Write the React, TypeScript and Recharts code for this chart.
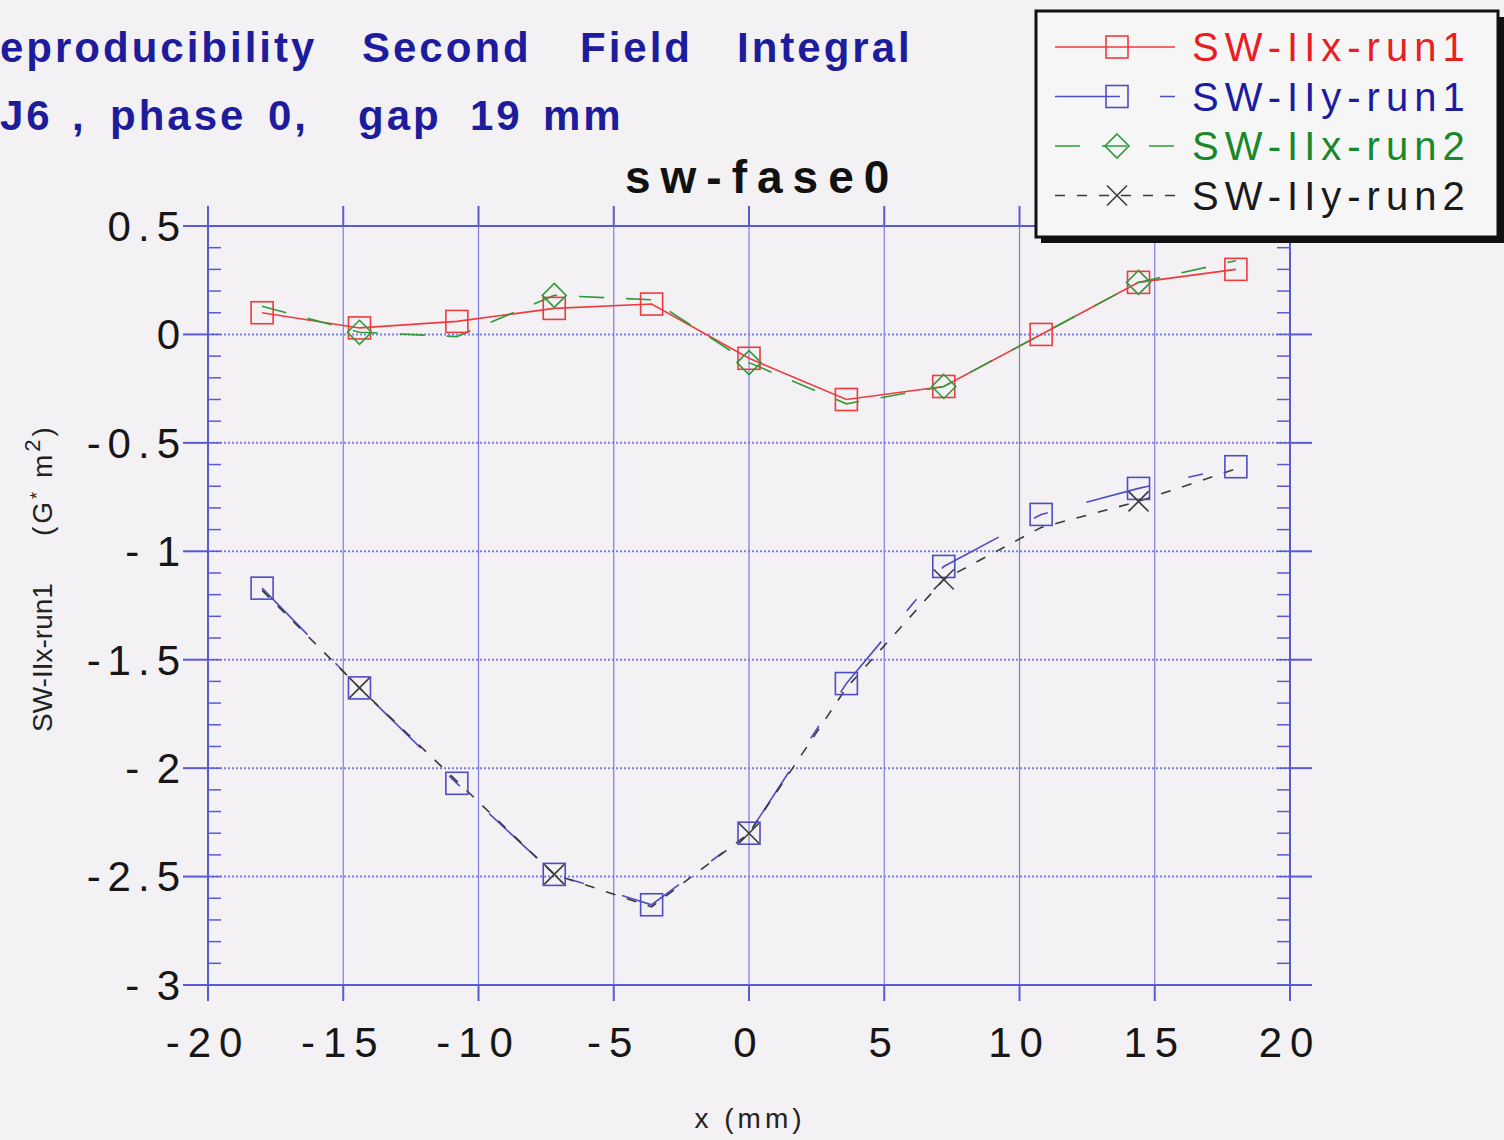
import { LineChart, Line, XAxis, YAxis, CartesianGrid } from "recharts"

// x positions of the measurement points (mm)
const xPositions = [-18, -14.4, -10.8, -7.2, -3.6, 0, 3.6, 7.2, 10.8, 14.4, 18]

// second field integrals (G* m^2)
const iixRun1 = [0.1, 0.03, 0.06, 0.12, 0.14, -0.11, -0.3, -0.24, 0.0, 0.24, 0.3]
const iiyRun1 = [-1.17, -1.63, -2.07, -2.49, -2.63, -2.3, -1.61, -1.07, -0.83, -0.71, -0.61]
const iixRun2 = [0.13, 0.01, -0.01, 0.18, 0.16, -0.13, -0.32, -0.24, 0.0, 0.24, 0.34]
const iiyRun2 = [-1.18, -1.63, -2.06, -2.49, -2.64, -2.3, -1.63, -1.13, -0.89, -0.77, -0.62]

const xTicks = [-20, -15, -10, -5, 0, 5, 10, 15, 20]
const yTicks = [-3, -2.5, -2, -1.5, -1, -0.5, 0, 0.5]
const yMinorTicks = [
  -3, -2.9, -2.8, -2.7, -2.6, -2.5, -2.4, -2.3, -2.2, -2.1, -2, -1.9, -1.8, -1.7, -1.6, -1.5, -1.4, -1.3,
  -1.2, -1.1, -1, -0.9, -0.8, -0.7, -0.6, -0.5, -0.4, -0.3, -0.2, -0.1, 0, 0.1, 0.2, 0.3, 0.4, 0.5,
]

const rows = xPositions.map((x, i) => ({
  x,
  iixRun1: iixRun1[i],
  iiyRun1: iiyRun1[i],
  iixRun2: iixRun2[i],
  iiyRun2: iiyRun2[i],
}))

const FONT = "'Liberation Sans', Arial, Helvetica, sans-serif"
const GRID = "#7c7ce4"
const AXIS = "#5a5ad4"

type Marker = "square" | "diamond" | "cross"

const series = [
  { key: "iixRun1", name: "SW-IIx-run1", color: "#ee3b3e", text: "#e81e24", dash: undefined, marker: "square" as Marker, every: 1 },
  { key: "iiyRun1", name: "SW-IIy-run1", color: "#4d4dc6", text: "#1c1ca0", dash: "65 40 15 40", marker: "square" as Marker, every: 1 },
  { key: "iixRun2", name: "SW-IIx-run2", color: "#2f9a3c", text: "#18882a", dash: "25 22", marker: "diamond" as Marker, every: 2 },
  { key: "iiyRun2", name: "SW-IIy-run2", color: "#3a3a3a", text: "#1a1a1a", dash: "10 12", marker: "cross" as Marker, every: 2 },
]

function markerShape(kind: Marker, cx: number, cy: number, color: string) {
  if (kind === "square") {
    return <rect x={cx - 11} y={cy - 11} width={22} height={22} fill="none" stroke={color} strokeWidth={1.6} />
  }
  if (kind === "diamond") {
    return (
      <path
        d={`M${cx} ${cy - 12} L${cx + 12} ${cy} L${cx} ${cy + 12} L${cx - 12} ${cy} Z`}
        fill="none"
        stroke={color}
        strokeWidth={1.6}
      />
    )
  }
  return (
    <path
      d={`M${cx - 10} ${cy - 10} L${cx + 10} ${cy + 10} M${cx + 10} ${cy - 10} L${cx - 10} ${cy + 10}`}
      stroke={color}
      strokeWidth={1.6}
    />
  )
}

// run2 markers are only drawn on every other point, like the original plot
const makeDot = (kind: Marker, color: string, every: number) => (props: any) => {
  const { cx, cy, index } = props
  if (cx == null || cy == null || index % every !== every - 1) return <g key={`d-${index}`} />
  return <g key={`d-${index}`}>{markerShape(kind, cx, cy, color)}</g>
}

const fmtY = (v: number) => (Number.isInteger(v) && v < 0 ? `-\u200A${Math.abs(v)}` : String(v))
const noLabel = () => ""

function Overlay() {
  const blue = "#1c1c9c"
  return (
    <svg width={1504} height={1140} style={{ position: "absolute", left: 0, top: 0, pointerEvents: "none" }}>
      <g fontFamily={FONT} fontWeight="bold" fontSize={42} fill={blue} letterSpacing={3}>
        <text x={0} y={62}>eproducibility</text>
        <text x={362} y={62}>Second</text>
        <text x={580} y={62}>Field</text>
        <text x={737} y={62}>Integral</text>
        <text x={0} y={130}>J6</text>
        <text x={72} y={130}>,</text>
        <text x={110} y={130}>phase</text>
        <text x={268} y={130}>0,</text>
        <text x={358} y={130}>gap</text>
        <text x={470} y={130}>19</text>
        <text x={543} y={130}>mm</text>
      </g>
      <text x={625} y={193} fontFamily={FONT} fontWeight="bold" fontSize={46} letterSpacing={10} fill="#111">
        sw-fase0
      </text>

      <g transform="translate(52, 732) rotate(-90)" fontFamily={FONT} fontSize={28} fill="#222">
        <text x={0} y={0}>SW-IIx-run1</text>
        <text x={196} y={0} letterSpacing={3}>
          (G<tspan dy={-9} fontSize={18}>*</tspan>
          <tspan dy={9}>{"  "}m</tspan>
          <tspan dy={-12} fontSize={22}>2</tspan>
          <tspan dy={12}>)</tspan>
        </text>
      </g>
      <text x={750} y={1128} textAnchor="middle" fontFamily={FONT} fontSize={28} letterSpacing={4} fill="#222">
        x (mm)
      </text>

      {/* legend box */}
      <rect x={1041} y={17} width={463} height={226} fill="#111" />
      <rect x={1036} y={11} width={462} height={226} fill="#f7f6f7" stroke="#111" strokeWidth={3} />
      {series.map((s, i) => {
        const cy = 47 + i * 49.5
        return (
          <g key={s.key}>
            <line x1={1055} x2={1175} y1={cy} y2={cy} stroke={s.color} strokeWidth={1.6} strokeDasharray={s.dash} />
            {markerShape(s.marker, 1117, cy, s.color)}
            <text x={1192} y={cy + 14} fontFamily={FONT} fontSize={40} letterSpacing={6} fill={s.text}>
              {s.name}
            </text>
          </g>
        )
      })}
    </svg>
  )
}

export default function App() {
  return (
    <div
      style={{
        position: "absolute",
        left: 0,
        top: 0,
        width: 1504,
        height: 1140,
        background: "#f3f1f3",
        overflow: "hidden",
        fontFamily: FONT,
      }}
    >
      <LineChart width={1504} height={1140} data={rows} margin={{ top: 225, right: 184, bottom: 15, left: 108 }}>
        <CartesianGrid horizontal={false} stroke={GRID} strokeWidth={1.2} />
        <CartesianGrid vertical={false} stroke={GRID} strokeWidth={2} strokeDasharray="2 2" />
        <XAxis
          dataKey="x"
          type="number"
          domain={[-20, 20]}
          ticks={xTicks}
          interval={0}
          allowDataOverflow
          height={140}
          stroke={AXIS}
          strokeWidth={2}
          tickSize={16}
          tickMargin={26}
          tick={{ fill: "#161616", fontSize: 42, letterSpacing: 8, fontFamily: FONT }}
        />
        <XAxis
          xAxisId="top"
          dataKey="x"
          type="number"
          orientation="top"
          domain={[-20, 20]}
          ticks={xTicks}
          interval={0}
          allowDataOverflow
          height={1}
          stroke={AXIS}
          strokeWidth={2}
          tickSize={20}
          tickFormatter={noLabel}
        />
        <YAxis
          type="number"
          domain={[-3, 0.5]}
          ticks={yTicks}
          interval={0}
          allowDataOverflow
          width={100}
          stroke={AXIS}
          strokeWidth={2}
          tickSize={25}
          tickMargin={-4}
          tickFormatter={fmtY}
          tick={{ fill: "#161616", fontSize: 42, letterSpacing: 7, fontFamily: FONT }}
        />
        <YAxis
          yAxisId="minorLeft"
          type="number"
          domain={[-3, 0.5]}
          ticks={yMinorTicks}
          interval={0}
          allowDataOverflow
          mirror
          axisLine={false}
          stroke={AXIS}
          strokeWidth={1.5}
          tickSize={13}
          tickFormatter={noLabel}
        />
        <YAxis
          yAxisId="right"
          orientation="right"
          type="number"
          domain={[-3, 0.5]}
          ticks={yTicks}
          interval={0}
          allowDataOverflow
          width={30}
          stroke={AXIS}
          strokeWidth={2}
          tickSize={22}
          tickFormatter={noLabel}
        />
        <YAxis
          yAxisId="minorRight"
          orientation="right"
          type="number"
          domain={[-3, 0.5]}
          ticks={yMinorTicks}
          interval={0}
          allowDataOverflow
          mirror
          axisLine={false}
          stroke={AXIS}
          strokeWidth={1.5}
          tickSize={13}
          tickFormatter={noLabel}
        />
        {/* invisible carriers so the frame axes get scales */}
        <Line dataKey="iixRun1" xAxisId="top" yAxisId="minorLeft" stroke="none" dot={false} activeDot={false} legendType="none" isAnimationActive={false} />
        <Line dataKey="iixRun1" yAxisId="right" stroke="none" dot={false} activeDot={false} legendType="none" isAnimationActive={false} />
        <Line dataKey="iixRun1" yAxisId="minorRight" stroke="none" dot={false} activeDot={false} legendType="none" isAnimationActive={false} />
        {series.map((s) => (
          <Line
            key={s.key}
            dataKey={s.key}
            name={s.name}
            type="linear"
            stroke={s.color}
            strokeWidth={1.6}
            strokeDasharray={s.dash}
            dot={makeDot(s.marker, s.color, s.every)}
            activeDot={false}
            isAnimationActive={false}
          />
        ))}
      </LineChart>
      <Overlay />
    </div>
  )
}
